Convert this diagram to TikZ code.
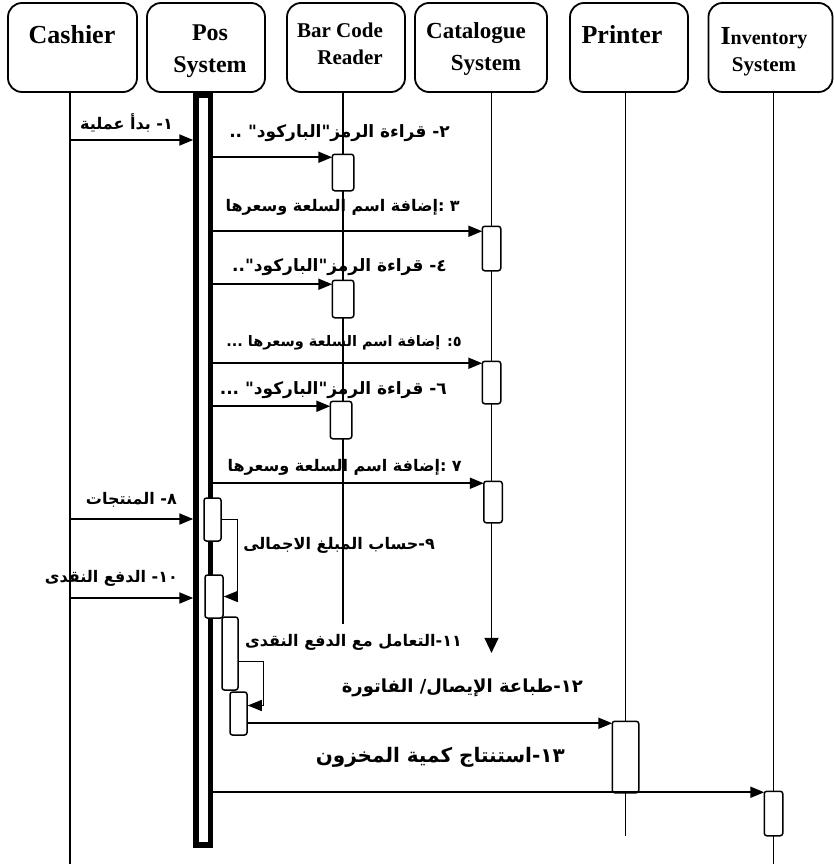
\documentclass[tikz,border=0pt]{standalone}
\usepackage{fontspec}
\setmainfont{Liberation Serif}
\newfontfamily\arabicfont[Script=Arabic]{DejaVu Sans}
\TeXXeTstate=1
\usetikzlibrary{arrows.meta,positioning}

\newcommand{\rtltext}[1]{\beginR #1\endR}

\begin{document}
\begin{tikzpicture}[
    x=1pt, y=-1pt,
    hdr/.style={draw, line width=1.8pt, rounded corners=14pt,
        minimum height=89pt, inner sep=0pt},
    hdrtxt/.style={anchor=base, inner sep=0pt},
    act/.style={draw, fill=white, line width=1.5pt,
        rounded corners=2.5pt, inner sep=0pt, minimum width=17pt},
    life/.style={line width=1.4pt},
    msg/.style={-{Triangle[length=14pt,width=11pt]}, line width=2pt},
    selfmsg/.style={-{Triangle[length=14pt,width=11pt]}, line width=1.3pt},
    lbl/.style={anchor=east, inner sep=0pt,
        font=\arabicfont\bfseries\fontsize{16}{18}\selectfont}
]

    \useasboundingbox (0,0) rectangle (834,864);

    % Headers
    \node[hdr, minimum width=129pt] (cashier) at (72.5,47.5) {};
    \node[hdr, minimum width=118pt] (pos) at (206,47.5) {};
    \node[hdr, minimum width=118pt] (barcode) at (346,47.5) {};
    \node[hdr, minimum width=132pt] (catalogue) at (481,47.5) {};
    \node[hdr, minimum width=118pt] (printer) at (629,47.5) {};
    \node[hdr, minimum width=124pt] (inventory) at (770.5,47.5) {};

    \node[hdrtxt, font=\bfseries\fontsize{26}{26}\selectfont]
        (cashierTxt) at (72,44) {Cashier};
    \node[hdrtxt, font=\bfseries\fontsize{24}{24}\selectfont]
        (posTxtA) at (210,41) {Pos};
    \node[hdrtxt, font=\bfseries\fontsize{24}{24}\selectfont]
        (posTxtB) at (210,73) {System};
    \node[hdrtxt, font=\bfseries\fontsize{21}{21}\selectfont]
        (barcodeTxtA) at (340,38) {Bar Code};
    \node[hdrtxt, font=\bfseries\fontsize{21}{21}\selectfont]
        (barcodeTxtB) at (350,65) {Reader};
    \node[hdrtxt, font=\bfseries\fontsize{23}{23}\selectfont]
        (catalogueTxtA) at (476,39) {Catalogue};
    \node[hdrtxt, font=\bfseries\fontsize{23}{23}\selectfont]
        (catalogueTxtB) at (486,71) {System};
    \node[hdrtxt, font=\bfseries\fontsize{26}{26}\selectfont]
        (printerTxt) at (622,44) {Printer};
    \node[hdrtxt, font=\bfseries\fontsize{20}{20}\selectfont]
        (inventoryTxtA) at (764,45) {{\fontsize{26}{26}\selectfont I}nventory};
    \node[hdrtxt, font=\bfseries\fontsize{21}{21}\selectfont]
        (inventoryTxtB) at (764,72) {System};

    % Activation boxes
    \node[act, minimum width=20pt, minimum height=35pt] (bc1) at (343,172.5) {};
    \node[act, minimum width=20pt, minimum height=36pt] (bc2) at (343,299) {};
    \node[act, minimum width=20pt, minimum height=36pt] (bc3) at (341,420) {};
    \node[act, minimum height=43pt] (cat1) at (491.5,248.5) {};
    \node[act, minimum height=41pt] (cat2) at (491.5,382.5) {};
    \node[act, minimum height=40pt] (cat3) at (493,502) {};
    \node[act, minimum width=25pt, minimum height=70pt] (prn) at (625.5,757) {};
    \node[act, minimum height=43pt] (inv) at (773.5,813.5) {};

    % Lifelines
    \draw[life] ([xshift=-2.5pt]cashier.south) -- ++(0,772);
    \draw[life] (bc1 |- barcode.south) -- ++(0,531);
    \draw[
        life,
        -{Triangle[length=15pt,width=14pt]}
    ] (cat1 |- catalogue.south) -- ++(0,560);
    \draw[life] (prn |- printer.south) -- ++(0,743);
    \draw[life] (inv |- inventory.south) -- ++(0,772);

    % redraw boxes over the lifelines
    \foreach \b in {bc1,bc2,bc3,cat1,cat2,cat3,prn,inv}
        \draw[line width=1.5pt, fill=white, rounded corners=2.5pt]
            (\b.south west) rectangle (\b.north east);

    % Pos System bar
    \node[
        draw,
        line width=5.5pt,
        inner sep=0pt,
        minimum width=14.5pt,
        minimum height=750pt
    ] (posbar) at (203.25,470) {};

    \node[act, minimum height=43pt] (pos8) at (212.5,519.5) {};
    \node[act, minimum width=18pt, minimum height=43pt] (pos10) at (214,596.5) {};
    \node[act, minimum width=16pt, minimum height=73pt] (pos11) at (230,653.5) {};
    \node[act, minimum height=43pt] (pos12) at (238.5,713.5) {};

    % Messages
    \coordinate (m1) at (70,140);
    \draw[msg] (m1) -- (m1 -| posbar.west);
    \node[lbl] (l1) at (173,123) {\rtltext{١- بدأ عملية}};

    \coordinate (m2) at ([yshift=-3pt]bc1.north west);
    \draw[msg] (m2 -| posbar.east) -- (m2);
    \node[
        lbl,
        font=\arabicfont\bfseries\fontsize{17}{19}\selectfont
    ] (l2) at (450,133) {\rtltext{٢- قراءة الرمز"الباركود" ..}};

    \coordinate (m3) at ([yshift=-5pt]cat1.north west);
    \draw[msg] (m3 -| posbar.east) -- (m3);
    \node[lbl] (l3) at (460,207) {\rtltext{٣ :إضافة  اسم السلعة وسعرها}};

    \coordinate (m4) at ([yshift=-4pt]bc2.north west);
    \draw[msg] (m4 -| posbar.east) -- (m4);
    \node[
        lbl,
        font=\arabicfont\bfseries\fontsize{17}{19}\selectfont
    ] (l4) at (447,267) {\rtltext{٤- قراءة الرمز"الباركود"..}};

    \coordinate (m5) at ([yshift=-2pt]cat2.north west);
    \draw[msg] (m5 -| posbar.east) -- (m5);
    \node[
        lbl,
        font=\arabicfont\bfseries\fontsize{14.5}{16}\selectfont
    ] (l5) at (462,343) {\rtltext{٥: إضافة  اسم السلعة وسعرها ...}};

    \coordinate (m6) at ([yshift=-5pt]bc3.north west);
    \draw[msg] (m6 -| posbar.east) -- (m6);
    \node[
        lbl,
        font=\arabicfont\bfseries\fontsize{17}{19}\selectfont
    ] (l6) at (447,390) {\rtltext{٦- قراءة الرمز"الباركود" ...}};

    \coordinate (m7) at ([yshift=-2pt]cat3.north west);
    \draw[msg] (m7 -| posbar.east) -- (m7);
    \node[lbl] (l7) at (462,467) {\rtltext{٧ :إضافة اسم السلعة وسعرها}};

    \coordinate (m8) at (70,519);
    \draw[msg] (m8) -- (m8 -| posbar.west);
    \node[lbl] (l8) at (177,500) {\rtltext{٨- المنتجات}};

    \draw[selfmsg] (pos8.east) -- ++(16,0) |- (pos10.east);
    \node[lbl] (l9) at (435,545) {\rtltext{٩-حساب المبلغ الاجمالى}};

    \coordinate (m10) at (70,598);
    \draw[msg] (m10) -- (m10 -| posbar.west);
    \node[lbl] (l10) at (178,578) {\rtltext{١٠- الدفع النقدى}};

    \draw[selfmsg] ([yshift=-8pt]pos11.east) -- ++(25,0)
        |- ([yshift=8pt]pos12.east);
    \node[lbl] (l11) at (462,642) {\rtltext{١١-التعامل مع الدفع النقدى}};

    \coordinate (m12) at ([yshift=-2pt]prn.north west);
    \draw[msg] (m12 -| pos12.east) -- (m12);
    \node[
        lbl,
        font=\arabicfont\bfseries\fontsize{18}{20}\selectfont
    ] (l12) at (583,688) {\rtltext{١٢-طباعة الإيصال/ الفاتورة}};

    \coordinate (m13) at ([yshift=-1pt]inv.north west);
    \draw[msg] (m13 -| posbar.east) -- (m13);
    \node[
        lbl,
        font=\arabicfont\bfseries\fontsize{20}{22}\selectfont
    ] (l13) at (565,757) {\rtltext{١٣-استنتاج كمية المخزون}};

\end{tikzpicture}
\end{document}
